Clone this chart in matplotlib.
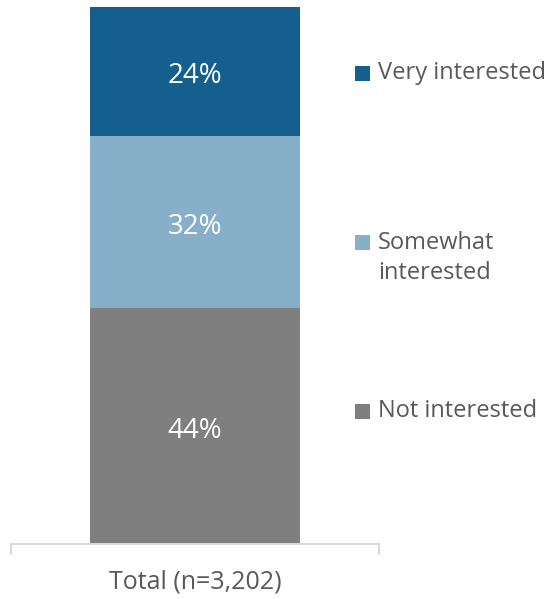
import matplotlib
matplotlib.use("Agg")
import matplotlib.pyplot as plt
from matplotlib.patches import Rectangle

categories = ["Total (n=3,202)"]
series = ["Not interested", "Somewhat interested", "Very interested"]
legend_labels = ["Not interested", "Somewhat\ninterested", "Very interested"]
values = [44, 32, 24]
colors = ["#7F7F7F", "#88AFC9", "#155F8E"]

plt.rcParams["font.family"] = ["Open Sans", "DejaVu Sans"]

W, H = 559, 599
fig = plt.figure(figsize=(W / 100, H / 100), dpi=100)
ax = fig.add_axes([11 / W, (H - 544) / H, 368 / W, 537 / H])

bottom = 0
for name, v, c in zip(series, values, colors):
    ax.bar(0, v, width=0.573, bottom=bottom, color=c, edgecolor="none", label=name)
    ax.annotate(f"{v}%", xy=(0, bottom + v / 2), xytext=(0, -3.6),
                textcoords="offset points", ha="center", va="center",
                color="white", fontsize=20)
    bottom += v

ax.set_xlim(-0.5, 0.5)
ax.set_ylim(0, 100)
ax.set_yticks([])
for s in ["top", "left", "right"]:
    ax.spines[s].set_visible(False)
ax.spines["bottom"].set_color("#D9D9D9")
ax.spines["bottom"].set_linewidth(1.5)
ax.set_xticks([-0.5, 0.5])
ax.set_xticklabels(["", ""])
ax.tick_params(axis="x", length=8, width=1.5, color="#D9D9D9")
ax.text(0, -7.1, categories[0], ha="center", va="center",
        fontsize=18, color="#595959", transform=ax.transData, clip_on=False)

# legend entries placed beside the bar
legend_y = [411, 258, 73]
for lab, c, y in zip(legend_labels, colors, legend_y):
    first_line_y = y if "\n" not in lab else y - 16
    fig.patches.append(Rectangle((355 / W, (H - first_line_y - 7.5) / H), 15 / W, 15 / H,
                                 transform=fig.transFigure, facecolor=c, edgecolor="none"))
    fig.text(378 / W, (H - y) / H, lab, ha="left", va="center", fontsize=17,
             color="#595959", linespacing=1.38)

fig.savefig("out.png", dpi=100)
